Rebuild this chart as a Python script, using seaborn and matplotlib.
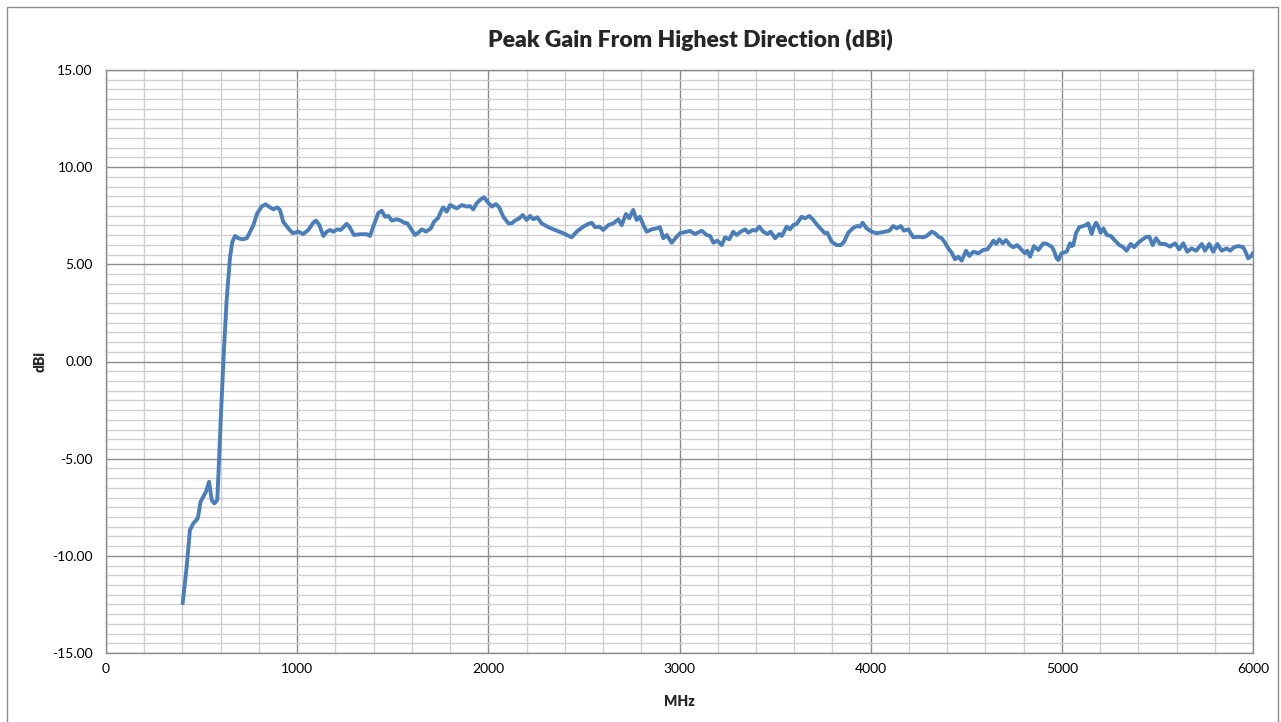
import numpy as np
import pandas as pd
import matplotlib
matplotlib.use('Agg')
import matplotlib.pyplot as plt
import seaborn as sns
from matplotlib.ticker import MultipleLocator, FormatStrFormatter
from matplotlib.patches import Rectangle

sns.set_style('white')
plt.rcParams['font.family'] = ['Lato', 'DejaVu Sans']

# Data (MHz, dBi)
freq_mhz = [
    401, 422, 439, 457, 480, 495, 509, 523, 539, 553, 567, 582, 593, 600,
    617, 631, 649, 661, 675, 692, 715, 736, 750, 771, 791, 814, 835, 858,
    875, 896, 910, 927, 954, 977, 1006, 1032, 1058, 1084, 1099, 1116, 1137,
    1155, 1172, 1189, 1210, 1228, 1245, 1259, 1273, 1297, 1329, 1364, 1381,
    1398, 1424, 1442, 1460, 1477, 1495, 1521, 1542, 1559, 1576, 1594, 1616,
    1634, 1652, 1674, 1699, 1716, 1738, 1756, 1764, 1782, 1800, 1817, 1835,
    1861, 1887, 1904, 1921, 1939, 1956, 1977, 1995, 2018, 2040, 2057, 2078,
    2105, 2122, 2140, 2162, 2180, 2201, 2218, 2235, 2256, 2279, 2314, 2358,
    2392, 2436, 2462, 2497, 2523, 2541, 2558, 2581, 2601, 2628, 2654, 2680,
    2698, 2720, 2737, 2758, 2776, 2793, 2811, 2828, 2855, 2881, 2898, 2915,
    2933, 2959, 2985, 3003, 3029, 3055, 3081, 3116, 3142, 3160, 3177, 3198,
    3221, 3238, 3261, 3281, 3299, 3320, 3343, 3360, 3383, 3400, 3417, 3438,
    3459, 3477, 3500, 3522, 3535, 3561, 3578, 3595, 3613, 3639, 3657, 3679,
    3700, 3721, 3744, 3761, 3773, 3796, 3822, 3843, 3861, 3883, 3906, 3927,
    3944, 3958, 3979, 4005, 4032, 4049, 4075, 4098, 4118, 4136, 4157, 4174,
    4197, 4223, 4249, 4275, 4293, 4319, 4337, 4354, 4372, 4389, 4406, 4424,
    4441, 4458, 4476, 4499, 4516, 4537, 4563, 4589, 4610, 4624, 4642, 4656,
    4673, 4691, 4708, 4729, 4746, 4767, 4790, 4807, 4819, 4834, 4854, 4877,
    4903, 4921, 4947, 4959, 4973, 4982, 4999, 5025, 5043, 5052, 5060, 5074,
    5091, 5112, 5126, 5138, 5156, 5168, 5179, 5191, 5203, 5217, 5235, 5256,
    5278, 5301, 5318, 5339, 5360, 5378, 5400, 5423, 5444, 5458, 5475, 5493,
    5514, 5540, 5566, 5592, 5614, 5635, 5656, 5679, 5702, 5732, 5749, 5771,
    5792, 5813, 5836, 5862, 5880, 5901, 5923, 5949, 5963, 5975, 5992, 6000,
]
gain_dbi = [
    -12.44, -10.56, -8.67, -8.33, -8.07, -7.21, -6.96, -6.70, -6.19, -7.13,
    -7.30, -7.13, -4.72, -3.01,
    0.59, 3.16, 5.39, 6.16, 6.46, 6.34, 6.29, 6.34, 6.60, 7.02, 7.63, 7.97,
    8.09, 7.93, 7.83, 7.93, 7.80, 7.19, 6.85, 6.60, 6.68, 6.56, 6.77, 7.14,
    7.25, 7.02, 6.46, 6.68, 6.77, 6.68, 6.80, 6.77, 6.94, 7.08, 6.94, 6.51,
    6.55, 6.55, 6.46, 6.94, 7.63, 7.76, 7.45, 7.49, 7.25, 7.32, 7.25, 7.14,
    7.11, 6.85, 6.51, 6.63, 6.80, 6.68, 6.85, 7.19, 7.40, 7.80, 7.93, 7.71,
    8.05, 7.97, 7.88, 8.05, 7.97, 8.00, 7.83, 8.14, 8.31, 8.45, 8.22, 7.97,
    8.10, 7.93, 7.45, 7.11, 7.11, 7.25, 7.37, 7.54, 7.28, 7.49, 7.32, 7.42,
    7.11, 6.91, 6.73, 6.60, 6.39, 6.68, 6.94, 7.08, 7.14, 6.91, 6.94, 6.77,
    7.02, 7.11, 7.32, 7.02, 7.59, 7.37, 7.80, 7.28, 7.45, 7.02, 6.68, 6.80,
    6.85, 6.91, 6.34, 6.51, 6.11, 6.42, 6.60, 6.66, 6.72, 6.56, 6.73, 6.51,
    6.46, 6.11, 6.22, 5.99, 6.39, 6.29, 6.68, 6.51, 6.68, 6.80, 6.63, 6.77,
    6.73, 6.94, 6.68, 6.56, 6.68, 6.34, 6.56, 6.46, 6.94, 6.80, 7.02, 7.08,
    7.45, 7.37, 7.49, 7.28, 7.02, 6.77, 6.60, 6.63, 6.16, 5.99, 5.99, 6.16,
    6.63, 6.85, 6.97, 6.94, 7.14, 6.85, 6.68, 6.60, 6.63, 6.68, 6.73, 6.97,
    6.85, 6.97, 6.73, 6.80, 6.39, 6.42, 6.39, 6.46, 6.68, 6.60, 6.42, 6.34,
    6.11, 5.82, 5.60, 5.26, 5.39, 5.19, 5.70, 5.43, 5.65, 5.57, 5.74, 5.77,
    5.94, 6.22, 6.05, 6.29, 6.08, 6.25, 5.99, 5.88, 5.99, 5.74, 5.57, 5.70,
    5.39, 5.94, 5.74, 6.08, 6.05, 5.91, 5.70, 5.31, 5.22, 5.57, 5.65, 6.08,
    5.94, 5.99, 6.60, 6.91, 6.97, 7.02, 7.11, 6.56, 6.94, 7.14, 6.94, 6.63,
    6.85, 6.51, 6.46, 6.22, 5.99, 5.91, 5.70, 6.05, 5.88, 6.11, 6.29, 6.42,
    6.42, 5.99, 6.34, 6.05, 6.05, 5.91, 6.08, 5.77, 6.08, 5.65, 5.82, 5.70,
    6.05, 5.70, 6.05, 5.65, 6.05, 5.70, 5.82, 5.70, 5.88, 5.94, 5.88, 5.60,
    5.31, 5.43, 5.60,
]

df = pd.DataFrame({'MHz': freq_mhz, 'dBi': gain_dbi})

W, H = 1281, 722
fig = plt.figure(figsize=(W / 100, H / 100), dpi=100)
ax = fig.add_axes([106 / W, 1 - 653 / H, (1253 - 106) / W, (653 - 70) / H])

major_c = '#8c8c8c'
minor_c = '#d0d0d0'

ax.set_xlim(0, 6000)
ax.set_ylim(-15, 15)
ax.xaxis.set_major_locator(MultipleLocator(1000))
ax.xaxis.set_minor_locator(MultipleLocator(200))
ax.yaxis.set_major_locator(MultipleLocator(5))
ax.yaxis.set_minor_locator(MultipleLocator(0.5))
ax.yaxis.set_major_formatter(FormatStrFormatter('%.2f'))

ax.grid(which='minor', color=minor_c, lw=1.0)
ax.grid(which='major', color=major_c, lw=1.0)
ax.set_axisbelow(True)

sns.lineplot(data=df, x='MHz', y='dBi', ax=ax, color='#4A7EBB', lw=2.8,
             legend=False)

for s in ax.spines.values():
    s.set_color(major_c)
    s.set_linewidth(1.0)

ax.tick_params(which='major', direction='inout', length=7, width=1,
               color=major_c, labelsize=10, labelcolor='#000000', pad=4)
ax.tick_params(which='minor', length=0)
ax.tick_params(axis='y', pad=6)

ax.set_xlabel('MHz', fontsize=10, fontweight='heavy', labelpad=14)
ax.set_ylabel('dBi', fontsize=10, fontweight='heavy', labelpad=4)

fig.text(690 / W, 1 - 40 / H, 'Peak Gain From Highest Direction (dBi)',
         ha='center', va='center', fontsize=16.5, fontweight='heavy')

fig.patches.append(Rectangle((7 / W, -0.01), (1278 - 7) / W, 1 - 7 / H + 0.01,
                             transform=fig.transFigure, fill=False,
                             edgecolor='#8c8c8c', lw=1.0))

fig.savefig('out.png', dpi=100)
plt.close(fig)
